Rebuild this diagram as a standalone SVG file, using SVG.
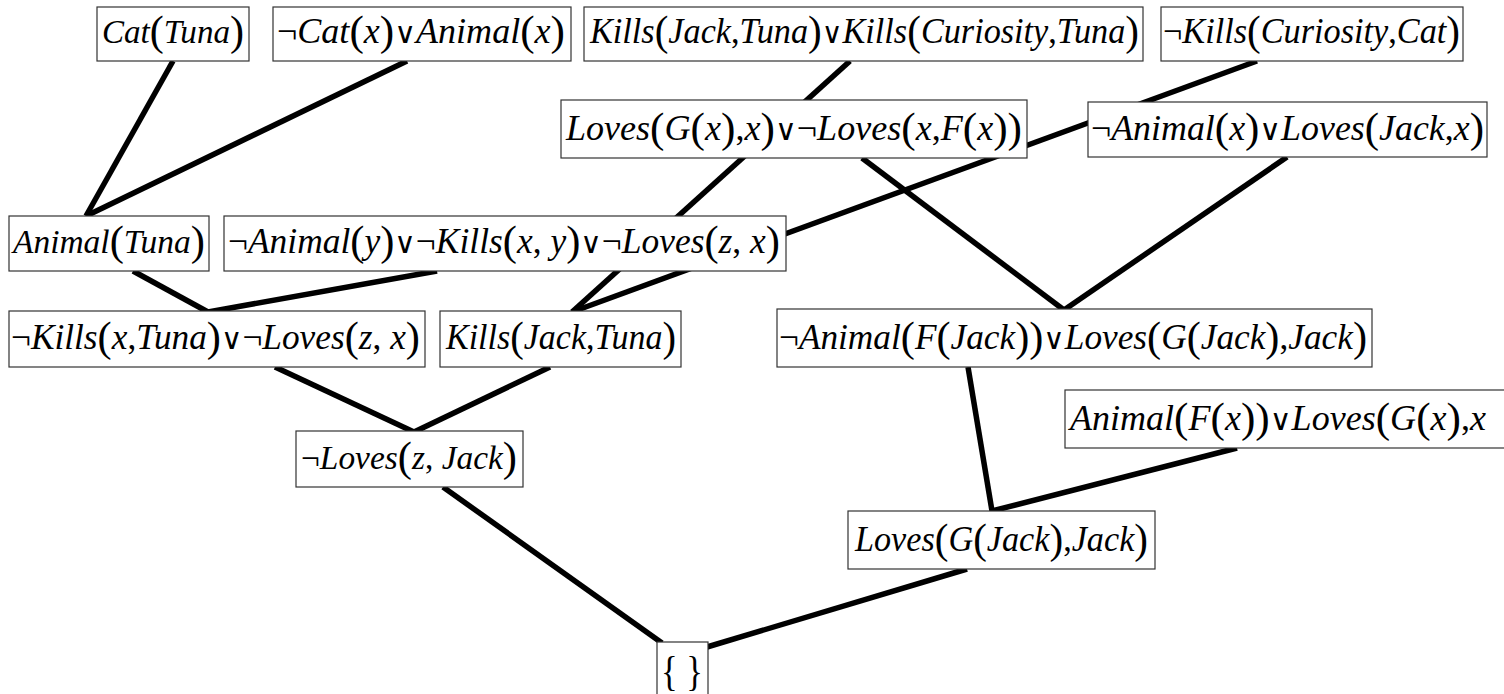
<svg xmlns="http://www.w3.org/2000/svg" width="1504" height="694" viewBox="0 0 1504 694">
<style>
.bg{fill:#fff}
.box{fill:#fff;stroke:#333;stroke-width:1.2}
.t{font-family:"Liberation Serif","Times New Roman",serif;font-style:italic;font-size:35px;fill:#000}
.s{font-size:33px}
.n{font-style:normal}
.p{font-style:normal;font-size:42px;baseline-shift:-2px}
.o{font-family:"DejaVu Serif","Liberation Serif",serif;font-style:normal;font-size:29px}
.edge{stroke:#000;stroke-width:5.5;fill:none}
</style>
<rect class="bg" x="0" y="0" width="1504" height="694"/>
<g id="connectors">
<line class="edge" x1="173" y1="61" x2="86" y2="216"/>
<line class="edge" x1="407" y1="61" x2="86" y2="216"/>
<line class="edge" x1="850" y1="61" x2="572" y2="312"/>
<line class="edge" x1="1257" y1="61" x2="572" y2="312"/>
<line class="edge" x1="862" y1="158" x2="1064" y2="310"/>
<line class="edge" x1="1287" y1="157" x2="1064" y2="310"/>
<line class="edge" x1="133" y1="271" x2="208" y2="312"/>
<line class="edge" x1="437" y1="271" x2="208" y2="312"/>
<line class="edge" x1="275" y1="367" x2="414" y2="432"/>
<line class="edge" x1="550" y1="367" x2="414" y2="432"/>
<line class="edge" x1="968" y1="367" x2="992" y2="511"/>
<line class="edge" x1="1237" y1="448" x2="992" y2="511"/>
<line class="edge" x1="443" y1="487" x2="662" y2="643"/>
<line class="edge" x1="967" y1="569" x2="707" y2="647"/>
</g>
<g id="n_cat_tuna">
<rect class="box" x="97" y="7" width="152" height="54"/>
<text class="t s" x="102" y="43" textLength="142" lengthAdjust="spacingAndGlyphs">Cat<tspan class="p">(</tspan>Tuna<tspan class="p">)</tspan></text>
</g>
<g id="n_notcat_animal">
<rect class="box" x="273" y="7" width="298" height="54"/>
<text class="t" x="277" y="43" textLength="288" lengthAdjust="spacingAndGlyphs"><tspan class="n">¬</tspan>Cat<tspan class="p">(</tspan>x<tspan class="p">)</tspan><tspan class="o">∨</tspan>Animal<tspan class="p">(</tspan>x<tspan class="p">)</tspan></text>
</g>
<g id="n_kills_or">
<rect class="box" x="584" y="7" width="559" height="54"/>
<text class="t" x="590" y="43" textLength="549" lengthAdjust="spacingAndGlyphs">Kills<tspan class="p">(</tspan>Jack<tspan class="n">,</tspan>Tuna<tspan class="p">)</tspan><tspan class="o">∨</tspan>Kills<tspan class="p">(</tspan>Curiosity<tspan class="n">,</tspan>Tuna<tspan class="p">)</tspan></text>
</g>
<g id="n_notkills_cat">
<rect class="box" x="1161" y="7" width="302" height="54"/>
<text class="t" x="1163" y="43" textLength="297" lengthAdjust="spacingAndGlyphs"><tspan class="n">¬</tspan>Kills<tspan class="p">(</tspan>Curiosity<tspan class="n">,</tspan>Cat<tspan class="p">)</tspan></text>
</g>
<g id="n_loves_g">
<rect class="box" x="561" y="100" width="466" height="58"/>
<text class="t" x="566" y="140" textLength="456" lengthAdjust="spacingAndGlyphs">Loves<tspan class="p">(</tspan>G<tspan class="p">(</tspan>x<tspan class="p">)</tspan><tspan class="n">,</tspan>x<tspan class="p">)</tspan><tspan class="o">∨</tspan><tspan class="n">¬</tspan>Loves<tspan class="p">(</tspan>x<tspan class="n">,</tspan>F<tspan class="p">(</tspan>x<tspan class="p">))</tspan></text>
</g>
<g id="n_notanimal_lovesjack">
<rect class="box" x="1088" y="102" width="399" height="55"/>
<text class="t" x="1091" y="140" textLength="393" lengthAdjust="spacingAndGlyphs"><tspan class="n">¬</tspan>Animal<tspan class="p">(</tspan>x<tspan class="p">)</tspan><tspan class="o">∨</tspan>Loves<tspan class="p">(</tspan>Jack<tspan class="n">,</tspan>x<tspan class="p">)</tspan></text>
</g>
<g id="n_animal_tuna">
<rect class="box" x="9" y="216" width="200" height="55"/>
<text class="t s" x="13" y="253" textLength="192" lengthAdjust="spacingAndGlyphs">Animal<tspan class="p">(</tspan>Tuna<tspan class="p">)</tspan></text>
</g>
<g id="n_three_neg">
<rect class="box" x="224" y="216" width="562" height="55"/>
<text class="t" x="228" y="253" textLength="552" lengthAdjust="spacingAndGlyphs"><tspan class="n">¬</tspan>Animal<tspan class="p">(</tspan>y<tspan class="p">)</tspan><tspan class="o">∨</tspan><tspan class="n">¬</tspan>Kills<tspan class="p">(</tspan>x<tspan class="n">, </tspan>y<tspan class="p">)</tspan><tspan class="o">∨</tspan><tspan class="n">¬</tspan>Loves<tspan class="p">(</tspan>z<tspan class="n">, </tspan>x<tspan class="p">)</tspan></text>
</g>
<g id="n_notkills_tuna">
<rect class="box" x="9" y="311" width="416" height="56"/>
<text class="t" x="11" y="349" textLength="409" lengthAdjust="spacingAndGlyphs"><tspan class="n">¬</tspan>Kills<tspan class="p">(</tspan>x<tspan class="n">,</tspan>Tuna<tspan class="p">)</tspan><tspan class="o">∨</tspan><tspan class="n">¬</tspan>Loves<tspan class="p">(</tspan>z<tspan class="n">, </tspan>x<tspan class="p">)</tspan></text>
</g>
<g id="n_kills_jack">
<rect class="box" x="440" y="311" width="241" height="56"/>
<text class="t" x="446" y="349" textLength="230" lengthAdjust="spacingAndGlyphs">Kills<tspan class="p">(</tspan>Jack<tspan class="n">,</tspan>Tuna<tspan class="p">)</tspan></text>
</g>
<g id="n_notanimal_fjack">
<rect class="box" x="777" y="309" width="595" height="58"/>
<text class="t" x="779" y="349" textLength="588" lengthAdjust="spacingAndGlyphs"><tspan class="n">¬</tspan>Animal<tspan class="p">(</tspan>F<tspan class="p">(</tspan>Jack<tspan class="p">))</tspan><tspan class="o">∨</tspan>Loves<tspan class="p">(</tspan>G<tspan class="p">(</tspan>Jack<tspan class="p">)</tspan><tspan class="n">,</tspan>Jack<tspan class="p">)</tspan></text>
</g>
<g id="n_animal_fx">
<rect class="box" x="1065" y="390" width="460" height="58"/>
<text class="t" x="1070" y="430" textLength="416" lengthAdjust="spacingAndGlyphs">Animal<tspan class="p">(</tspan>F<tspan class="p">(</tspan>x<tspan class="p">))</tspan><tspan class="o">∨</tspan>Loves<tspan class="p">(</tspan>G<tspan class="p">(</tspan>x<tspan class="p">)</tspan><tspan class="n">,</tspan>x</text>
</g>
<g id="n_notloves_jack">
<rect class="box" x="296" y="431" width="227" height="56"/>
<text class="t s" x="301" y="469" textLength="216" lengthAdjust="spacingAndGlyphs"><tspan class="n">¬</tspan>Loves<tspan class="p">(</tspan>z<tspan class="n">, </tspan>Jack<tspan class="p">)</tspan></text>
</g>
<g id="n_loves_gjack">
<rect class="box" x="848" y="511" width="307" height="58"/>
<text class="t" x="855" y="551" textLength="293" lengthAdjust="spacingAndGlyphs">Loves<tspan class="p">(</tspan>G<tspan class="p">(</tspan>Jack<tspan class="p">)</tspan><tspan class="n">,</tspan>Jack<tspan class="p">)</tspan></text>
</g>
<g id="n_empty">
<rect class="box" x="657" y="642" width="51" height="60"/>
<text class="t" x="661" y="683" textLength="42" lengthAdjust="spacingAndGlyphs"><tspan class="p">{ }</tspan></text>
</g>
</svg>
